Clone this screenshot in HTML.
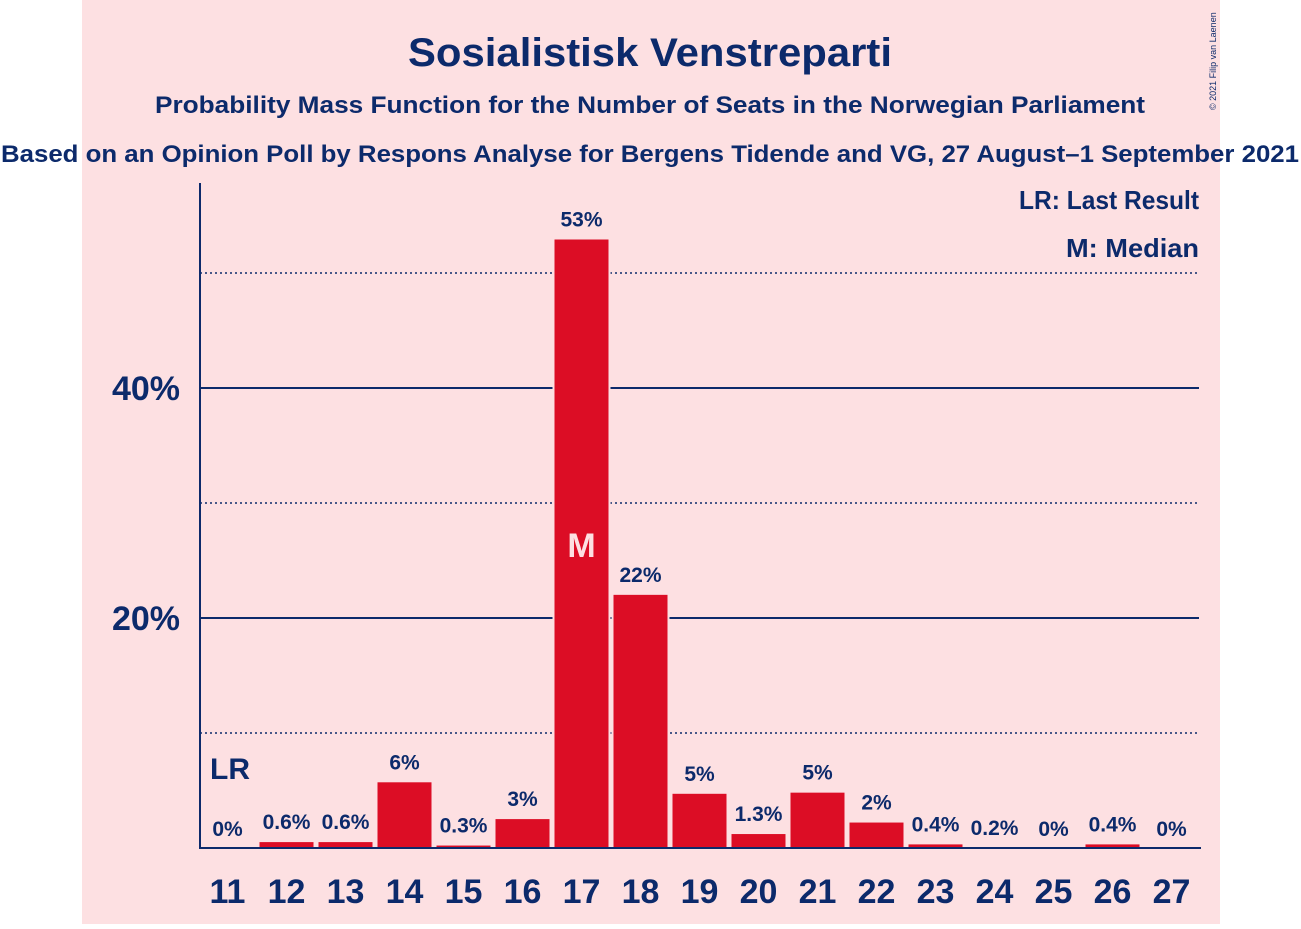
<!DOCTYPE html>
<html><head><meta charset="utf-8"><style>
body{margin:0;width:1301px;height:924px;background:#fff;overflow:hidden;font-family:"Liberation Sans",sans-serif}
</style></head><body>
<svg width="1301" height="924">
<rect x="82" y="0" width="1138" height="924" fill="#fde0e2"/>
<g font-weight="bold" fill="#0c2a6b" text-anchor="middle">
<text x="650" y="66" font-size="40" textLength="484" lengthAdjust="spacingAndGlyphs">Sosialistisk Venstreparti</text>
<text x="650" y="113" font-size="24" textLength="990" lengthAdjust="spacingAndGlyphs">Probability Mass Function for the Number of Seats in the Norwegian Parliament</text>
<text x="650" y="162" font-size="24" textLength="1298" lengthAdjust="spacingAndGlyphs">Based on an Opinion Poll by Respons Analyse for Bergens Tidende and VG, 27 August–1 September 2021</text>
</g>
<text x="1216" y="110" font-size="9" fill="#0c2a6b" transform="rotate(-90 1216 110)">© 2021 Filip van Laenen</text>
<g id="grid"></g>
<g id="bars"></g>
<g id="labels" font-weight="bold" fill="#0c2a6b" text-anchor="middle"></g>
<line x1="200" y1="183" x2="200" y2="849" stroke="#0c2a6b" stroke-width="2"/>
<line x1="199" y1="848" x2="1201" y2="848" stroke="#0c2a6b" stroke-width="2"/>
<g font-weight="bold" fill="#0c2a6b" font-size="26" text-anchor="end">
<text x="1199" y="209" textLength="180" lengthAdjust="spacingAndGlyphs">LR: Last Result</text>
<text x="1199" y="257" textLength="133" lengthAdjust="spacingAndGlyphs">M: Median</text>
</g>
<text x="210" y="779" font-size="30" font-weight="bold" fill="#0c2a6b">LR</text>
</svg>
<script>
const seats=[11,12,13,14,15,16,17,18,19,20,21,22,23,24,25,26,27];
const probs=[0,0.6,0.6,5.8,0.3,2.6,53,22.1,4.8,1.3,4.9,2.3,0.4,0.1,0,0.4,0];
const valueLabels=["0%","0.6%","0.6%","6%","0.3%","3%","53%","22%","5%","1.3%","5%","2%","0.4%","0.2%","0%","0.4%","0%"];
const solidTicks=[20,40];
const solidTickLabels=["20%","40%"];
const dottedTicks=[10,30,50];
const medianSeat=17;
const NS="http://www.w3.org/2000/svg";
const y=v=>848-v*11.5;
const x=s=>227.5+(s-11)*59;
function mk(t,a,p){const e=document.createElementNS(NS,t);for(const k in a)e.setAttribute(k,a[k]);p.appendChild(e);return e;}
const g=document.getElementById('grid'),b=document.getElementById('bars'),l=document.getElementById('labels');
dottedTicks.forEach(v=>{const e=mk('line',{x1:200,x2:1199,y1:y(v),y2:y(v),stroke:'#0c2a6b','stroke-width':1.5,'stroke-dasharray':'2,3'},g);

});
solidTicks.forEach((v,i)=>{const e=mk('line',{x1:200,x2:1199,y1:y(v),y2:y(v),stroke:'#0c2a6b','stroke-width':2},g);


const t=mk('text',{x:180,y:y(v)+12,'font-size':34,'text-anchor':'end','font-weight':'bold',fill:'#0c2a6b'},g);t.textContent=solidTickLabels[i];

});
seats.forEach((s,i)=>{const v=probs[i];
if(v>0){const r=mk('rect',{x:x(s)-28,y:y(v),width:56,height:848-y(v),fill:'#dc0d25',stroke:'#fde0e2','stroke-width':2},b);

}
const t=mk('text',{x:x(s),y:y(v)-12,'font-size':21},l);t.textContent=valueLabels[i];


const xt=mk('text',{x:x(s),y:903,'font-size':34},l);xt.textContent=s;


if(s===medianSeat){const m=mk('text',{x:x(s),y:557,'font-size':34,fill:'#fde0e2'},l);m.textContent='M';

}
});
</script>
</body></html>
